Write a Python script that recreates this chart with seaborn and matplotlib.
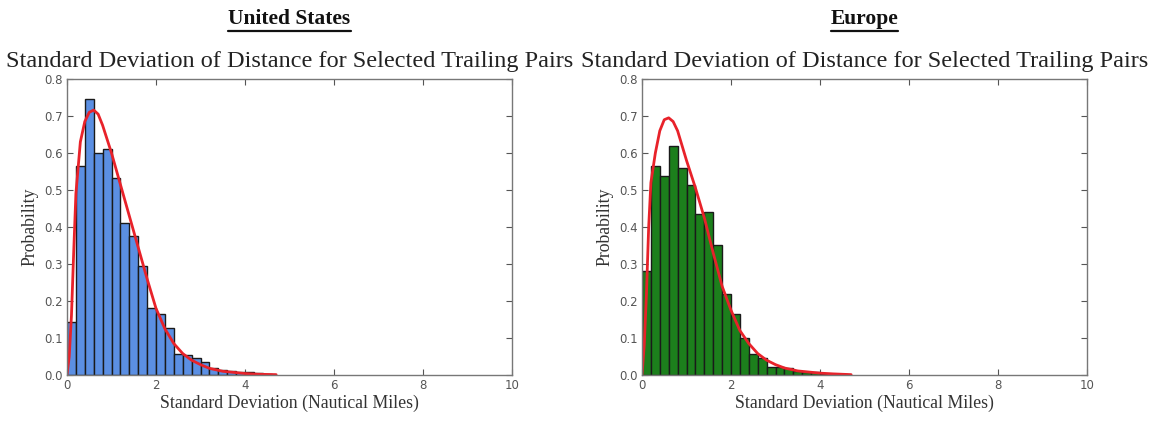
import numpy as np
import pandas as pd
import matplotlib
matplotlib.use("Agg")
import matplotlib.pyplot as plt
import seaborn as sns
from matplotlib.lines import Line2D

# ---- data ----
bin_edges = [round(0.2 * i, 1) for i in range(24)]  # 0.0 .. 4.6

us_values = [0.143, 0.566, 0.746, 0.600, 0.610, 0.533, 0.410, 0.376, 0.295, 0.180,
             0.165, 0.127, 0.058, 0.054, 0.046, 0.034, 0.018, 0.013, 0.011, 0.008,
             0.007, 0.005, 0.003]
eu_values = [0.282, 0.566, 0.537, 0.620, 0.560, 0.513, 0.436, 0.440, 0.351, 0.219,
             0.164, 0.100, 0.056, 0.047, 0.021, 0.021, 0.018, 0.012, 0.009, 0.007,
             0.004, 0.003, 0.002]

curve_x = [0.0, 0.05, 0.1, 0.15, 0.2, 0.3, 0.4, 0.5, 0.6, 0.7, 0.8, 1.0, 1.2, 1.4,
           1.6, 1.8, 2.0, 2.2, 2.4, 2.6, 2.8, 3.0, 3.2, 3.5, 4.0, 4.3, 4.7]
us_curve = [0.0, 0.05, 0.16, 0.33, 0.49, 0.63, 0.685, 0.71, 0.716, 0.705, 0.675, 0.60,
            0.515, 0.43, 0.345, 0.26, 0.18, 0.125, 0.085, 0.058, 0.04, 0.028, 0.018,
            0.01, 0.004, 0.002, 0.001]
eu_curve = [0.0, 0.08, 0.22, 0.40, 0.52, 0.60, 0.66, 0.69, 0.695, 0.685, 0.66, 0.58,
            0.506, 0.425, 0.33, 0.24, 0.175, 0.12, 0.085, 0.058, 0.04, 0.028, 0.019,
            0.011, 0.005, 0.003, 0.001]

main_titles = ["United States", "Europe"]
subtitle = "Standard Deviation of Distance for Selected Trailing Pairs"
xlabel = "Standard Deviation (Nautical Miles)"
ylabel = "Probability"
x_ticks = [0, 2, 4, 6, 8, 10]
y_ticks = [0.0, 0.1, 0.2, 0.3, 0.4, 0.5, 0.6, 0.7, 0.8]

fills = ["#5b8fe3", "#1c7f1c"]

sns.set_theme(style="white")
plt.rcParams["font.family"] = ["Liberation Serif", "DejaVu Serif"]

fig = plt.figure(figsize=(11.57, 4.21), dpi=100)
W, H = 1157, 421
axes_px = [(67, 512), (642, 1087)]
top_px, bot_px = 79, 375

centers = [(bin_edges[i] + bin_edges[i + 1]) / 2 for i in range(len(bin_edges) - 1)]

for k, (vals, curve, fill, title) in enumerate(zip([us_values, eu_values],
                                                    [us_curve, eu_curve],
                                                    fills, main_titles)):
    x0, x1 = axes_px[k]
    ax = fig.add_axes([x0 / W, 1 - bot_px / H, (x1 - x0) / W, (bot_px - top_px) / H])
    df = pd.DataFrame({"x": centers, "w": vals})
    sns.histplot(data=df, x="x", weights="w", bins=bin_edges, stat="count",
                 color=fill, alpha=1.0, edgecolor="#1a1a1a", linewidth=1.0, ax=ax)
    cdf = pd.DataFrame({"x": curve_x, "y": curve})
    sns.lineplot(data=cdf, x="x", y="y", color="#e8222a", linewidth=2.0, ax=ax)
    ax.set_xlim(0, 10)
    ax.set_ylim(0, 0.8)
    ax.set_xticks(x_ticks)
    ax.set_yticks(y_ticks)
    ax.set_xticklabels([str(t) for t in x_ticks], family="DejaVu Sans")
    ax.set_yticklabels([f"{t:.1f}" for t in y_ticks], family="DejaVu Sans")
    ax.tick_params(direction="in", length=4, width=0.8, colors="#555555",
                   labelsize=8.5, top=True, right=True, bottom=True, left=True,
                   labelcolor="#555555", pad=3)
    for s in ax.spines.values():
        s.set_color("#777777")
        s.set_linewidth(1.0)
    ax.set_xlabel(xlabel, fontsize=12.8, color="#333333", labelpad=2)
    ax.set_ylabel(ylabel, fontsize=12.8, color="#333333", labelpad=4)

    cx = ((x0 + x1) / 2) / W
    fig.text(cx, 1 - 62 / H, subtitle, ha="center", va="center", fontsize=17.5,
             color="#222222")
    t = fig.text(cx, 1 - 19 / H, title, ha="center", va="center", fontsize=15.5,
                 fontweight="bold", color="#111111")
    fig.canvas.draw()
    bb = t.get_window_extent(renderer=fig.canvas.get_renderer())
    bb = bb.transformed(fig.transFigure.inverted())
    fig.add_artist(Line2D([bb.x0, bb.x1], [bb.y0 - 0.004, bb.y0 - 0.004],
                          transform=fig.transFigure, color="#111111", linewidth=1.6))

fig.savefig("out.png", dpi=100)
